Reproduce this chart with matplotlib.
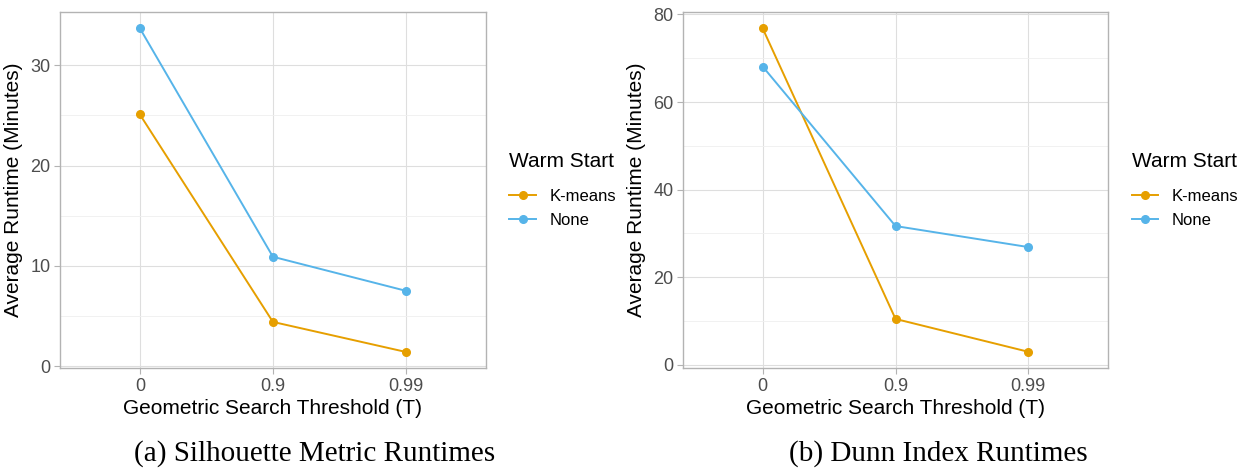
import matplotlib.pyplot as plt
import numpy as np

# thresholds on the x axis (treated as categories)
thresholds = ['0', '0.9', '0.99']

# average runtime in minutes
sil_kmeans = [25.1, 4.4, 1.4]
sil_none = [33.7, 10.9, 7.5]
dunn_kmeans = [76.8, 10.5, 3.0]
dunn_none = [68.1, 31.7, 26.9]

series_names = ['K-means', 'None']
series_colors = ['#E69F00', '#56B4E9']

plt.rcParams['font.family'] = ['Liberation Sans', 'DejaVu Sans']

BORDER = '#B3B3B3'
GRID_MAJOR = '#DEDEDE'
GRID_MINOR = '#EFEFEF'
TEXT = '#4D4D4D'


def style_axes(ax, yticks, yminor, ylim):
    x = np.arange(1, len(thresholds) + 1)
    ax.set_xlim(0.4, 3.6)
    ax.set_ylim(*ylim)
    ax.set_xticks(x)
    ax.set_xticklabels(thresholds)
    ax.set_yticks(yticks)
    ax.set_yticks(yminor, minor=True)
    ax.grid(which='major', color=GRID_MAJOR, linewidth=0.8)
    ax.grid(which='minor', axis='y', color=GRID_MINOR, linewidth=0.6)
    ax.set_axisbelow(True)
    for s in ax.spines.values():
        s.set_color(BORDER)
        s.set_linewidth(1.0)
    ax.tick_params(which='major', color=BORDER, length=4, width=0.8,
                   labelsize=13, labelcolor=TEXT, pad=3)
    ax.tick_params(which='minor', length=0)
    ax.set_xlabel('Geometric Search Threshold (T)', fontsize=15, labelpad=3)
    ax.set_ylabel('Average Runtime (Minutes)', fontsize=15, labelpad=5)


def draw_panel(ax, kmeans, none):
    x = np.arange(1, len(thresholds) + 1)
    for vals, name, col in zip([kmeans, none], series_names, series_colors):
        ax.plot(x, vals, color=col, linewidth=1.4, marker='o', markersize=5.5,
                label=name)
    leg = ax.legend(title='Warm Start', loc='center left',
                    bbox_to_anchor=(1.02, 0.5), frameon=False, fontsize=12,
                    title_fontsize=15, handlelength=1.6, handletextpad=0.8,
                    labelspacing=0.55)
    leg._legend_box.align = 'left'
    # extra room between the legend title and its keys
    leg._legend_box.sep = 13


fig = plt.figure(figsize=(12.45, 4.7), dpi=100)

ax1 = fig.add_axes([0.0482, 0.217, 0.342, 0.757])
draw_panel(ax1, sil_kmeans, sil_none)
style_axes(ax1, [0, 10, 20, 30], [5, 15, 25], (-0.2, 35.3))

ax2 = fig.add_axes([0.5486, 0.217, 0.3414, 0.757])
draw_panel(ax2, dunn_kmeans, dunn_none)
style_axes(ax2, [0, 20, 40, 60, 80], [10, 30, 50, 70], (-0.7, 80.5))

fig.text(0.253, 0.036, '(a) Silhouette Metric Runtimes', ha='center',
         va='center', fontsize=21, family='Liberation Serif')
fig.text(0.754, 0.036, '(b) Dunn Index Runtimes', ha='center',
         va='center', fontsize=21, family='Liberation Serif')

fig.savefig('out.png', dpi=100, facecolor='white')
